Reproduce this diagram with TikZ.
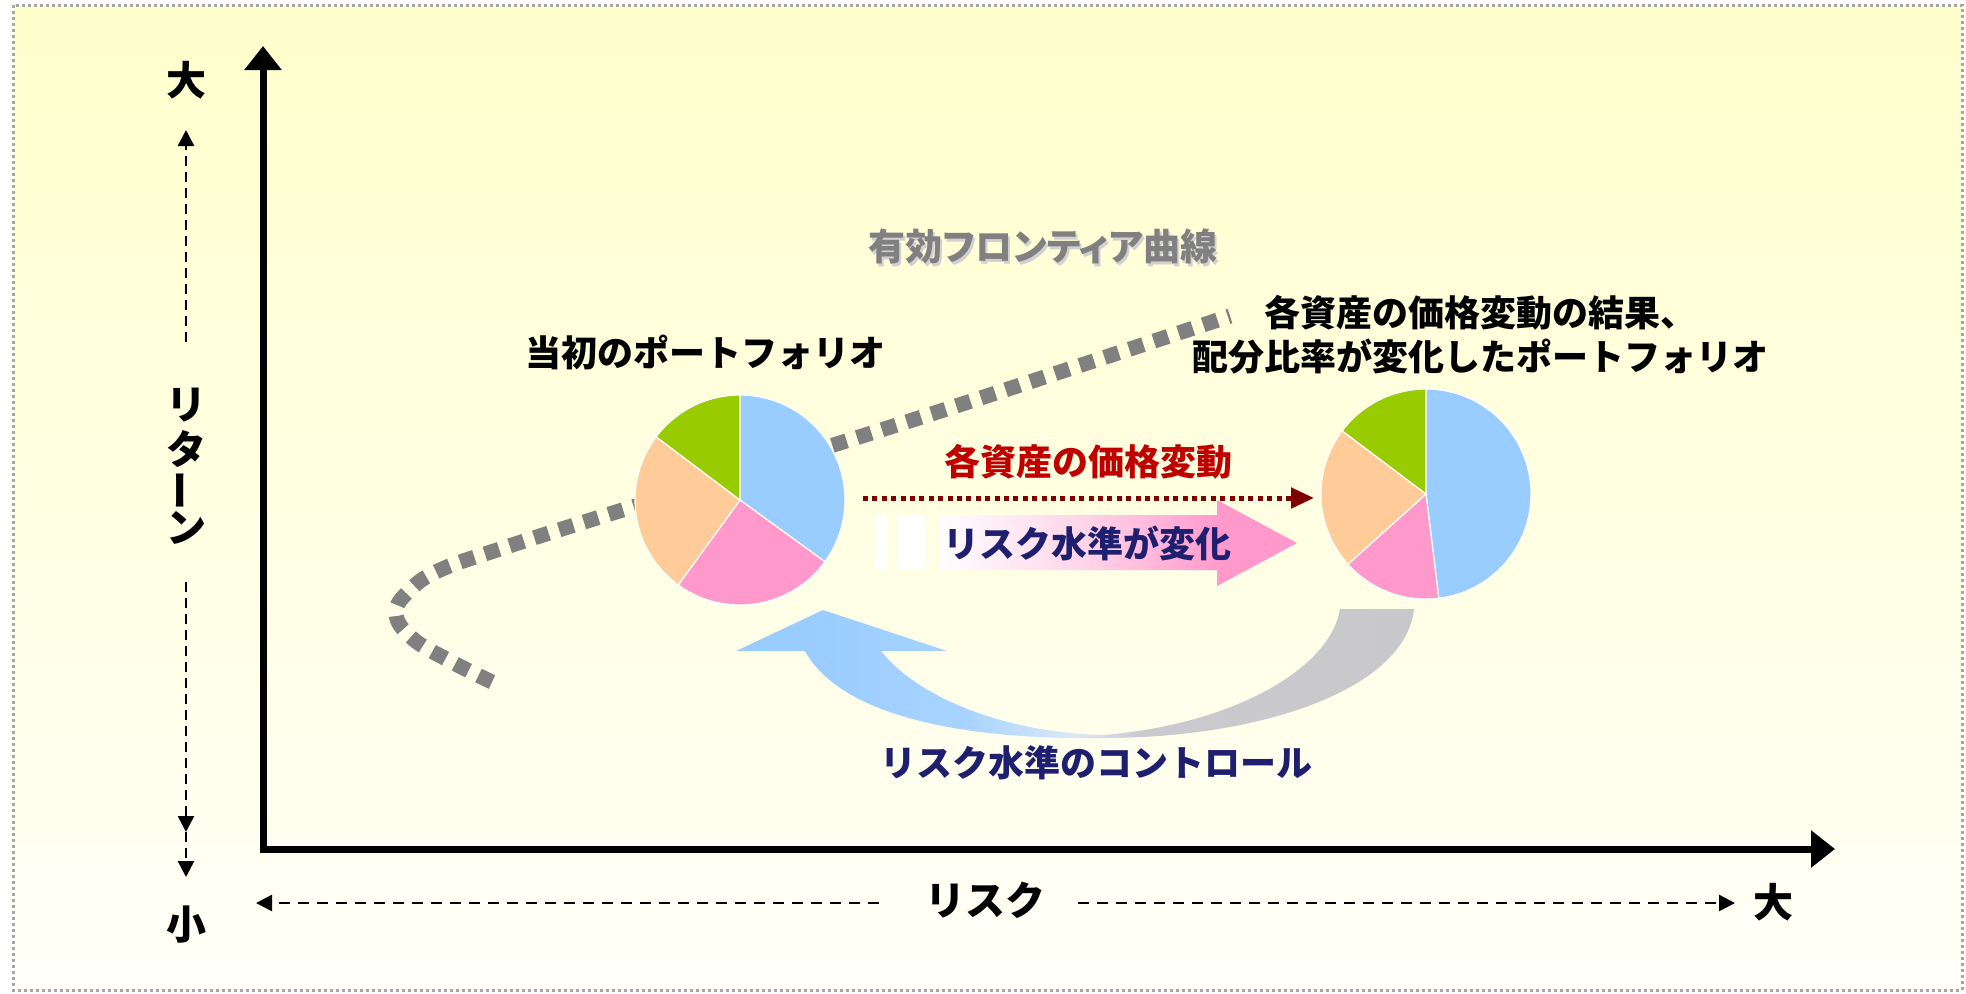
\documentclass[tikz,border=0pt]{standalone}
\usepackage{fontspec}
\setmainfont{Noto Sans CJK JP}
\newfontfamily\jpprop{Noto Sans CJK JP}[RawFeature=+palt]
\usetikzlibrary{arrows.meta}
\definecolor{bgtop}{RGB}{255,255,204}
\definecolor{bgbot}{RGB}{255,255,248}
\definecolor{pblue}{RGB}{153,204,255}
\definecolor{ppink}{RGB}{255,153,204}
\definecolor{ppeach}{RGB}{255,204,153}
\definecolor{pgreen}{RGB}{153,204,0}
\definecolor{navy}{RGB}{31,31,112}
\definecolor{dred}{RGB}{192,0,0}
\definecolor{ddred}{RGB}{128,0,0}
\definecolor{fgray}{RGB}{128,128,128}
\pgfdeclarehorizontalshading{pinkshade}{100bp}{rgb(0bp)=(1,1,1); rgb(32bp)=(1,1,1); rgb(50bp)=(1,0.83,0.91); rgb(66bp)=(1,0.6,0.8); rgb(100bp)=(1,0.6,0.8)}
\pgfdeclarehorizontalshading{curveshade}{100bp}{rgb(0bp)=(0.6,0.8,1); rgb(30bp)=(0.6,0.8,1); rgb(42bp)=(0.66,0.83,1); rgb(50bp)=(0.86,0.91,0.97); rgb(55bp)=(0.79,0.79,0.81); rgb(100bp)=(0.78,0.78,0.78)}
\newcommand{\pieslice}[3]{\fill[#3, draw=white, line width=0.6pt] (0,0) -- (#1:105) arc[start angle=#1, end angle=#2, radius=105] -- cycle;}
\tikzset{
  lbl/.style={font=\bfseries\fontsize{18}{22}\selectfont, inner sep=0pt},
  ttl/.style={font=\jpprop\bfseries\fontsize{18.5}{22}\selectfont, inner sep=0pt},
  ax/.style={font=\bfseries\fontsize{20}{24}\selectfont, inner sep=0pt},
  dasharr/.style={line width=1.25pt, dash pattern=on 5pt off 3pt, -{Triangle[length=8pt,width=8pt]}},
  axisline/.style={line width=3.5pt, line join=miter, {Triangle[length=12pt,width=18pt]}-{Triangle[length=12pt,width=18pt]}},
}
\begin{document}
\begin{tikzpicture}[x=0.5pt,y=-0.5pt]
\useasboundingbox (0,0) rectangle (1966,993);
\fill[white] (0,0) rectangle (1966,993);
\shade[top color=bgtop, bottom color=bgbot] (13,5) rectangle (1962,990);
\draw[black!35, line width=1.5pt, dash pattern=on 1.5pt off 1.5pt] (13,5) rectangle (1962,990);

% axes
\coordinate (O) at (263,849);
\coordinate (ytip) at (263,46);
\coordinate (xtip) at (1835,849);
\draw[axisline] (ytip) -- (O) -- (xtip);

% return scale
\node[ax] (big1) at (186,80) {大};
\coordinate (u0) at (186,342);
\coordinate (u1) at (186,130);
\draw[dasharr] (u0) -- (u1);
\node[ax] (r1) at (186,405) {リ};
\node[ax] (r2) at (186,449) {タ};
\node[ax, rotate=90] (r3) at (186,490) {ー};
\node[ax] (r4) at (186,528) {ン};
\coordinate (d0) at (186,582);
\coordinate (d1) at (186,832);
\coordinate (d2) at (186,877);
\draw[dasharr] (d0) -- (d1);
\draw[dasharr] (d1) -- (d2);
\node[ax] (small) at (186,925) {小};

% risk scale
\coordinate (h0) at (879,903);
\coordinate (h1) at (256,903);
\draw[dasharr, dash pattern=on 5.5pt off 4pt] (h0) -- (h1);
\node[ax] (risk) at (985,900) {リスク};
\coordinate (h2) at (1078,903);
\coordinate (h3) at (1735,903);
\draw[dasharr, dash pattern=on 5.5pt off 4pt] (h2) -- (h3);
\node[ax] (big2) at (1773,902) {大};

% efficient frontier
\draw[fgray, line width=7.5pt, dash pattern=on 7.5pt off 5.5pt]
  plot[smooth, tension=0.7] coordinates {(492,682) (450,661) (412,638) (396,613) (410,590) (440,570) (500,549) (600,517) (740,474) (900,424) (1060,372) (1230,316)};
\node[ttl, text=black!18] (titleshadow) at (1045,249) {有効フロンティア曲線};
\node[ttl, text=fgray] (title) at (1043,246) {有効フロンティア曲線};

% pies
\begin{scope}[shift={(740,500)}, yscale=-1]
\pieslice{90}{-36}{pblue}
\pieslice{-36}{-126}{ppink}
\pieslice{-126}{-217}{ppeach}
\pieslice{-217}{-270}{pgreen}
\end{scope}
\begin{scope}[shift={(1426,494)}, yscale=-1]
\pieslice{90}{-83}{pblue}
\pieslice{-83}{-138}{ppink}
\pieslice{-138}{-217}{ppeach}
\pieslice{-217}{-270}{pgreen}
\end{scope}
\node[circle, minimum size=105pt, inner sep=0pt] (pieL) at (740,500) {};
\node[circle, minimum size=106pt, inner sep=0pt] (pieR) at (1426,494) {};

\node[lbl] (init) at (705,352) {当初のポートフォリオ};
\node[lbl] (after1) at (1480,313) {各資産の価格変動の結果、};
\node[lbl] (after2) at (1480,357) {配分比率が変化したポートフォリオ};

% price change arrow
\node[lbl, text=dred] (chg) at (1088,462) {各資産の価格変動};
\coordinate (p0) at (863,498);
\coordinate (p1) at (1314,498);
\draw[ddred, line width=2.5pt, dash pattern=on 2.5pt off 2.2pt, -{Triangle[length=11.5pt,width=10pt]}] (p0) -- (p1);

% striped arrow
\shade[shading=pinkshade] (875,515) rectangle (888,570) (897,515) rectangle (925,570)
  (940,515) -- (1217,515) -- (1217,500) -- (1297,543) -- (1217,586) -- (1217,570) -- (940,570) -- cycle;
\node[lbl, text=navy] (lvl) at (1087,543) {リスク水準が変化};

% curved arrow
\shade[shading=curveshade] (823,610) -- (947,651) -- (881,651)
  .. controls (920,700) and (1010,733) .. (1103,735)
  .. controls (1230,725) and (1330,670) .. (1340,609) -- (1414,609)
  .. controls (1405,690) and (1260,738) .. (1103,738)
  .. controls (960,740) and (840,715) .. (805,651) -- (736,651) -- cycle;
\node[lbl, text=navy] (ctrl) at (1096,763) {リスク水準のコントロール};
\end{tikzpicture}
\end{document}
